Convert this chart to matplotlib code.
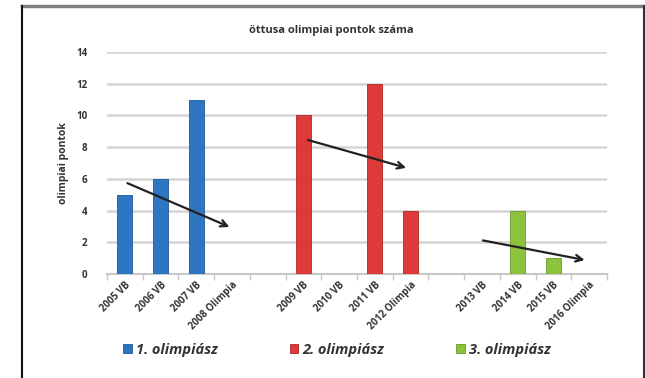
import matplotlib
matplotlib.use("Agg")
import matplotlib.pyplot as plt
import numpy as np
from matplotlib.lines import Line2D

categories = ["2005 VB", "2006 VB", "2007 VB", "2008 Olimpia", "",
              "2009 VB", "2010 VB", "2011 VB", "2012 Olimpia", "",
              "2013 VB", "2014 VB", "2015 VB", "2016 Olimpia"]
series_names = ["1. olimpiász", "2. olimpiász", "3. olimpiász"]
s1 = [5, 6, 11, 0, np.nan, np.nan, np.nan, np.nan, np.nan, np.nan, np.nan, np.nan, np.nan, np.nan]
s2 = [np.nan, np.nan, np.nan, np.nan, np.nan, 10, 0, 12, 4, np.nan, np.nan, np.nan, np.nan, np.nan]
s3 = [np.nan, np.nan, np.nan, np.nan, np.nan, np.nan, np.nan, np.nan, np.nan, np.nan, 0, 4, 1, 0]
colors = ["#2f76c2", "#de3a3a", "#8cc23c"]
edge_colors = ["#1f5a9a", "#b02525", "#6a9a28"]
# trend arrows: (x_start, y_start, x_end, y_end) in category index / points
arrows = [(0.0, 5.8, 3.0, 2.9), (5.05, 8.5, 7.95, 6.65), (9.95, 2.15, 12.95, 0.85)]
yticks = [0, 2, 4, 6, 8, 10, 12, 14]

plt.rcParams['font.family'] = ['Open Sans', 'DejaVu Sans']
fig = plt.figure(figsize=(6.45, 3.78), dpi=100)
ax = fig.add_axes([107/645, 1-274/378, 500/645, (274-52)/378])

x = np.arange(len(categories))
handles = []
for vals, c, ec, name in zip([s1, s2, s3], colors, edge_colors, series_names):
    b = ax.bar(x, vals, width=0.42, color=c, edgecolor=ec, linewidth=0.6, label=name, zorder=3)
    handles.append(b)

for (xs, ys, xe, ye) in arrows:
    ax.annotate("", xy=(xe, ye), xytext=(xs, ys),
                arrowprops=dict(arrowstyle="->", color="#222222", lw=1.6,
                                mutation_scale=12), zorder=5)

ax.set_xlim(-0.5, len(categories) - 0.5)
ax.set_ylim(0, 14)
ax.set_yticks(yticks)
ax.set_yticklabels([str(v) for v in yticks], fontsize=7, fontweight='bold', color='#333333')
ax.tick_params(axis='y', length=0, pad=14)
ax.yaxis.grid(True, color='#d4d4d4', linewidth=1.8, zorder=0)
ax.set_axisbelow(True)
for s in ['top', 'right', 'left']:
    ax.spines[s].set_visible(False)
ax.spines['bottom'].set_color('#c8c8c8')
ax.spines['bottom'].set_linewidth(1.5)

ax.set_xticks(x)
ax.set_xticklabels(categories, rotation=45, ha='right', va='top', rotation_mode='anchor',
                   fontsize=7, fontweight='bold', color='#333333')
ax.tick_params(axis='x', length=0, pad=4)
ax.set_xticks(np.arange(-0.5, len(categories) + 0.5, 1), minor=True)
ax.tick_params(axis='x', which='minor', length=4, color='#c8c8c8', width=1)

ax.set_ylabel("olimpiai pontok", fontsize=7.5, fontweight='bold', color='#333333', labelpad=5)
fig.text(331/645, 1 - 30/378, "öttusa olimpiai pontok száma",
         ha='center', va='center', fontsize=8, fontweight='bold', color='#333333')

leg = fig.legend(handles=handles, labels=series_names, loc='center', ncol=3,
                 bbox_to_anchor=(337/645, 1 - 350/378), frameon=False,
                 prop={'weight': 'bold', 'style': 'italic', 'size': 10.5},
                 handlelength=0.6, handleheight=0.6, handletextpad=0.3, columnspacing=4.9)
for t in leg.get_texts():
    t.set_color('#333333')

# outer frame
fig.add_artist(Line2D([22/645, 643/645], [1-5.5/378, 1-5.5/378], transform=fig.transFigure,
                      color='#808080', lw=2.5))
fig.add_artist(Line2D([22/645, 22/645], [0, 1-5.5/378], transform=fig.transFigure,
                      color='#111111', lw=1.5))
fig.add_artist(Line2D([643.5/645, 643.5/645], [0, 1-5.5/378], transform=fig.transFigure,
                      color='#333333', lw=1.5))

fig.savefig("out.png", dpi=100, facecolor='white')
